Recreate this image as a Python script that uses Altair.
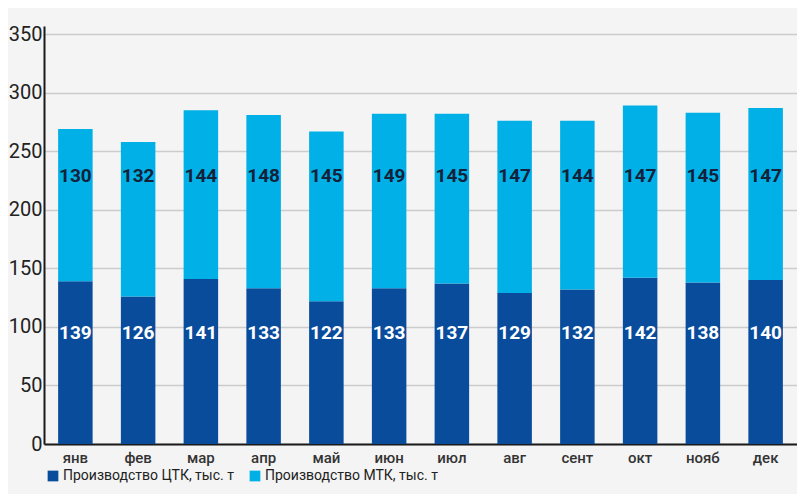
import altair as alt
import pandas as pd

months = ["янв", "фев", "мар", "апр", "май", "июн", "июл", "авг", "сент", "окт", "нояб", "дек"]
ctk = [139, 126, 141, 133, 122, 133, 137, 129, 132, 142, 138, 140]
mtk = [130, 132, 144, 148, 145, 149, 145, 147, 144, 147, 145, 147]
series = ["Производство ЦТК, тыс. т", "Производство МТК, тыс. т"]
colors = ["#0a4c9c", "#00b0e6"]

rows = []
for m, a, b in zip(months, ctk, mtk):
    rows.append({"month": m, "series": series[0], "value": a, "ord": 0})
    rows.append({"month": m, "series": series[1], "value": b, "ord": 1})
df = pd.DataFrame(rows)

FONT = "Roboto"

x = alt.X("month:N", sort=months, title=None,
          scale=alt.Scale(paddingInner=0.45, paddingOuter=0.225),
          axis=alt.Axis(labelAngle=0, labelFontSize=15, labelFont=FONT, labelFontWeight=500,
                        labelColor="#333333", domainColor="#1a1a1a", domainWidth=2,
                        ticks=False, labelPadding=6, grid=False))

bars = alt.Chart(df).mark_bar().encode(
    x=x,
    y=alt.Y("value:Q", stack="zero", title=None,
            scale=alt.Scale(domain=[0, 357], nice=False),
            axis=alt.Axis(values=[0, 50, 100, 150, 200, 250, 300, 350], labelFontSize=20,
                          labelFont=FONT, labelColor="#222222", domainColor="#1a1a1a",
                          domainWidth=2, ticks=False, labelPadding=2, grid=True,
                          gridColor="#cccccc", gridWidth=1.5)),
    color=alt.Color("series:N", sort=series,
                    scale=alt.Scale(domain=series, range=colors),
                    legend=alt.Legend(title=None, orient="none", direction="horizontal",
                                      legendX=2, legendY=443, symbolType="square",
                                      symbolSize=115, symbolStrokeWidth=0, labelFontSize=14,
                                      labelFont=FONT, labelColor="#222222", labelLimit=300,
                                      columnPadding=14, symbolOffset=0, labelOffset=3)),
    order=alt.Order("ord:Q", sort="ascending"),
)

lab_ctk = alt.Chart(df[df["ord"] == 0]).mark_text(
    font=FONT, fontSize=19, fontWeight="bold", color="white", baseline="middle"
).encode(x=alt.X("month:N", sort=months), y=alt.value(307), text="value:Q")

lab_mtk = alt.Chart(df[df["ord"] == 1]).mark_text(
    font=FONT, fontSize=19, fontWeight="bold", color="#14213a", baseline="middle"
).encode(x=alt.X("month:N", sort=months), y=alt.value(150), text="value:Q")

chart = alt.layer(bars, lab_ctk, lab_mtk).properties(
    width=753, height=418,
    background="#f4f4f4",
    padding={"left": 36, "top": 18, "right": 0, "bottom": 50},
    autosize=alt.AutoSizeParams(type="none"),
).configure_view(stroke=None)

chart.save("out.html", embed_options={"renderer": "svg", "actions": False})
